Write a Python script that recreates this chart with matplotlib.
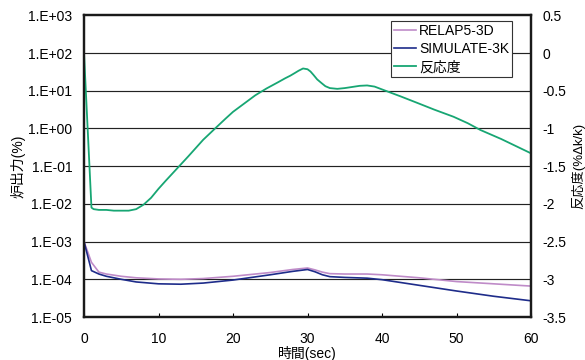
import numpy as np
import matplotlib
matplotlib.use("Agg")
import matplotlib.pyplot as plt
from matplotlib.ticker import FixedLocator, FixedFormatter
from matplotlib.lines import Line2D

plt.rcParams['font.family'] = ['Liberation Sans', 'Noto Sans CJK JP']

# 炉出力 (log10 of %)
t_power = [0, 1, 2, 3, 5, 7, 10, 13, 16, 20, 25, 28, 30, 31, 32, 33, 35, 38, 40, 45, 50, 55, 60]
relap_log = [-3.0, -3.55, -3.81, -3.86, -3.92, -3.96, -3.99, -4.0, -3.98, -3.92, -3.82, -3.74,
             -3.70, -3.75, -3.81, -3.85, -3.86, -3.86, -3.88, -3.96, -4.06, -4.12, -4.18]
simulate_log = [-3.0, -3.77, -3.86, -3.92, -4.0, -4.07, -4.12, -4.13, -4.1, -4.02, -3.88, -3.79,
                -3.74, -3.8, -3.88, -3.93, -3.95, -3.97, -4.01, -4.16, -4.31, -4.45, -4.57]

# 反応度 (%Δk/k)
t_react = [0, 1.0, 1.3, 2, 3, 4, 5, 6, 7, 8, 9, 10, 11, 12.5, 14, 15, 16, 17.6, 19, 20, 21.5,
           23, 24.5, 26, 27, 27.7, 28.3, 28.8, 29.4, 30, 30.4, 30.8, 31.3, 31.9, 32.4, 33,
           34, 35, 36, 37, 38, 39, 40.2, 42.5, 44.7, 47, 49.6, 51.5, 53.2, 56, 58, 60]
react = [0, -2.05, -2.07, -2.08, -2.08, -2.09, -2.09, -2.09, -2.07, -2.01, -1.92, -1.8, -1.69,
         -1.53, -1.37, -1.26, -1.15, -1.0, -0.87, -0.78, -0.67, -0.56, -0.47, -0.39, -0.335,
         -0.3, -0.265, -0.235, -0.205, -0.215, -0.245, -0.29, -0.35, -0.40, -0.44, -0.465,
         -0.475, -0.465, -0.45, -0.435, -0.43, -0.445, -0.49, -0.575, -0.66, -0.75, -0.845,
         -0.93, -1.02, -1.14, -1.235, -1.33]

left_ticks = [1e-5, 1e-4, 1e-3, 1e-2, 1e-1, 1e0, 1e1, 1e2, 1e3]
left_labels = ['1.E-05', '1.E-04', '1.E-03', '1.E-02', '1.E-01', '1.E+00', '1.E+01', '1.E+02', '1.E+03']
right_ticks = [-3.5, -3, -2.5, -2, -1.5, -1, -0.5, 0, 0.5]
right_labels = ['-3.5', '-3', '-2.5', '-2', '-1.5', '-1', '-0.5', '0', '0.5']

c_relap = '#BF8BC8'
c_sim = '#1E2C8A'
c_react = '#17A673'

fig = plt.figure(figsize=(5.85, 3.6), dpi=100)
ax = fig.add_axes([0.1436, 0.1194, 0.7641, 0.8381])
ax2 = ax.twinx()

ax.plot(t_power, 10 ** np.array(relap_log), color=c_relap, lw=1.2)
ax.plot(t_power, 10 ** np.array(simulate_log), color=c_sim, lw=1.2)
ax2.plot(t_react, react, color=c_react, lw=1.3)

ax.set_yscale('log')
ax.set_ylim(1e-5, 1e3)
ax.set_xlim(0, 60)
ax2.set_ylim(-3.5, 0.5)

ax.yaxis.set_major_locator(FixedLocator(left_ticks))
ax.yaxis.set_major_formatter(FixedFormatter(left_labels))
ax.yaxis.set_minor_locator(FixedLocator([]))
ax2.yaxis.set_major_locator(FixedLocator(right_ticks))
ax2.yaxis.set_major_formatter(FixedFormatter(right_labels))
ax.set_xticks([0, 10, 20, 30, 40, 50, 60])

for y in left_ticks[1:-1]:
    ax.axhline(y, color='#222222', lw=0.85, zorder=0)

ax.tick_params(axis='y', length=0, pad=8.5, labelsize=10)
ax2.tick_params(axis='y', length=0, pad=8.5, labelsize=10)
ax.tick_params(axis='x', direction='in', length=3, width=0.8, pad=11, labelsize=10)

for a in (ax, ax2):
    for s in a.spines.values():
        s.set_linewidth(1.6)
        s.set_color('#1a1a1a')

ax.set_ylabel('炉出力(%)', fontsize=10)
ax.yaxis.set_label_coords(-0.132, 0.5)
ax2.set_ylabel('反応度(%Δk/k)', fontsize=9.5)
ax2.yaxis.set_label_coords(1.0895, 0.5)
ax.set_xlabel('時間(sec)', fontsize=10, labelpad=0)

handles = [Line2D([], [], color=c_relap, lw=1.2),
           Line2D([], [], color=c_sim, lw=1.2),
           Line2D([], [], color=c_react, lw=1.3)]
leg = ax2.legend(handles, ['RELAP5-3D', 'SIMULATE-3K', '反応度'],
                 loc='upper right', bbox_to_anchor=(0.957, 0.981),
                 fancybox=False, framealpha=1, edgecolor='#333333',
                 fontsize=10, handlelength=1.6, handletextpad=0.2,
                 borderpad=0.2, labelspacing=0.3, borderaxespad=0)
leg.get_frame().set_linewidth(0.8)

fig.savefig('out.png', dpi=100)
